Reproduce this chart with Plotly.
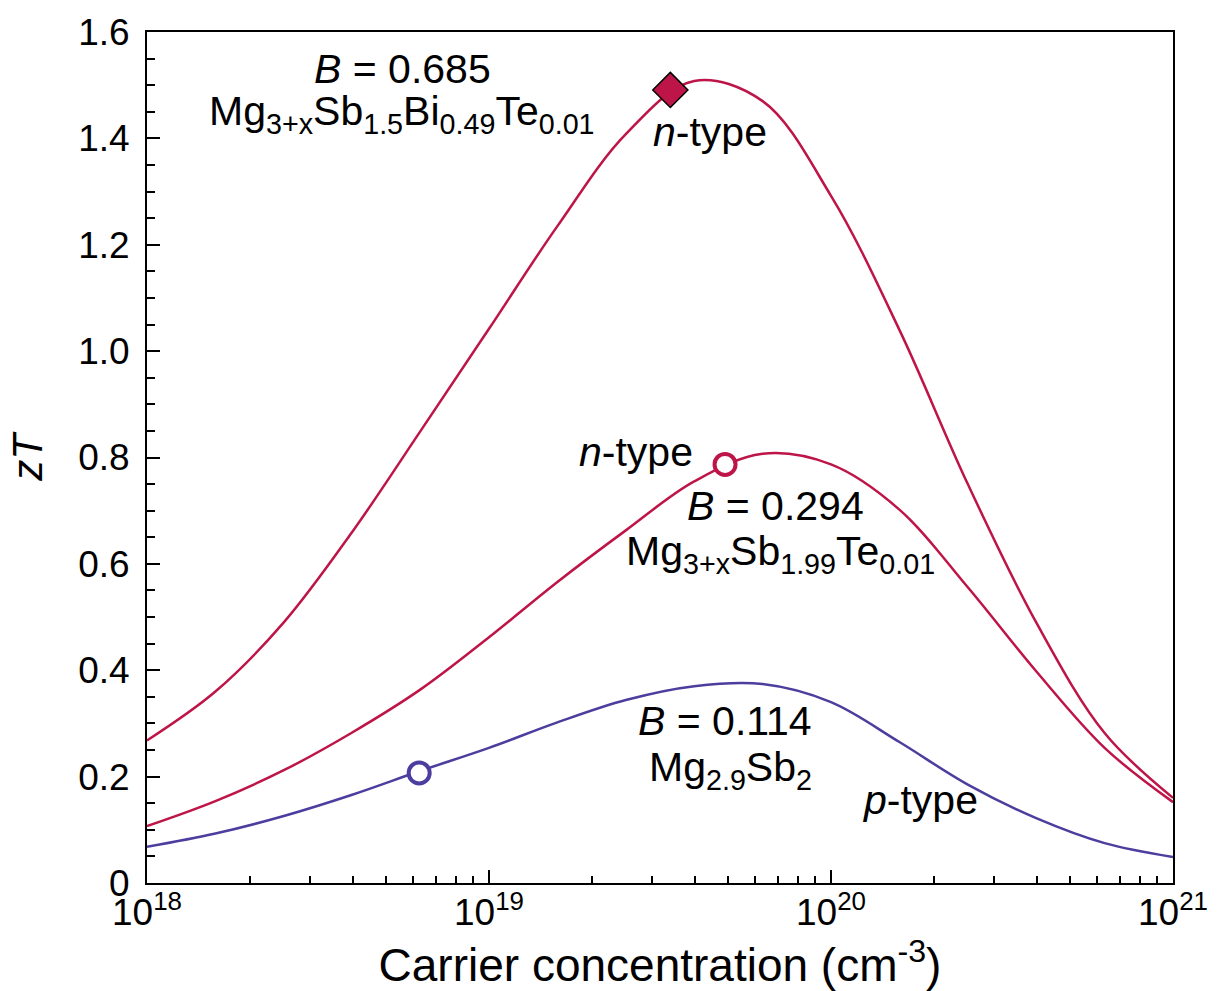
import numpy as np
import plotly.graph_objects as go

# log10 of carrier concentration (cm^-3), read every 0.2 decade from the picture
logn = [18.0, 18.2, 18.4, 18.6, 18.8, 19.0, 19.2, 19.4, 19.6, 19.8,
        20.0, 20.2, 20.4, 20.6, 20.8, 21.0]
# B = 0.685, Mg3+xSb1.5Bi0.49Te0.01 (n-type)
zt_top = [0.268, 0.360, 0.490, 0.660, 0.850, 1.042, 1.235, 1.408, 1.508, 1.470,
          1.292, 1.040, 0.750, 0.490, 0.282, 0.160]
# B = 0.294, Mg3+xSb1.99Te0.01 (n-type)
zt_mid = [0.107, 0.154, 0.212, 0.283, 0.364, 0.462, 0.566, 0.663, 0.755, 0.807,
          0.787, 0.702, 0.556, 0.398, 0.254, 0.152]
# B = 0.114, Mg2.9Sb2 (p-type)
zt_p = [0.068, 0.093, 0.126, 0.166, 0.211, 0.254, 0.302, 0.344, 0.370, 0.374,
        0.340, 0.265, 0.185, 0.122, 0.075, 0.049]

# experimental points
exp_top_n, exp_top_zt = [3.39e19], [1.491]
exp_mid_n, exp_mid_zt = [4.9e19], [0.787]
exp_p_n, exp_p_zt = [6.25e18], [0.207]

x_tickvals = [1e18, 1e19, 1e20, 1e21]
x_ticktext = ["10<sup>18</sup>", "10<sup>19</sup>", "10<sup>20</sup>", "10<sup>21</sup>"]
y_tickvals = [0, 0.2, 0.4, 0.6, 0.8, 1.0, 1.2, 1.4, 1.6]
y_ticktext = ["0", "0.2", "0.4", "0.6", "0.8", "1.0", "1.2", "1.4", "1.6"]

RED = "#BE1548"
BLUE = "#4B3E9E"
FONT = "Liberation Sans, Arial, sans-serif"

fig = go.Figure()
xs = [10.0 ** v for v in logn]
for zt, col in [(zt_top, RED), (zt_mid, RED), (zt_p, BLUE)]:
    fig.add_trace(go.Scatter(x=xs, y=zt, mode="lines",
                             line=dict(color=col, width=2.5, shape="spline", smoothing=1.0),
                             showlegend=False, hoverinfo="skip"))

fig.add_trace(go.Scatter(x=exp_top_n, y=exp_top_zt, mode="markers",
                         marker=dict(symbol="diamond", size=27, color=RED,
                                     line=dict(color="black", width=1.5)), showlegend=False))
fig.add_trace(go.Scatter(x=exp_mid_n, y=exp_mid_zt, mode="markers",
                         marker=dict(symbol="circle", size=21, color="white",
                                     line=dict(color=RED, width=4)), showlegend=False))
fig.add_trace(go.Scatter(x=exp_p_n, y=exp_p_zt, mode="markers",
                         marker=dict(symbol="circle", size=21, color="white",
                                     line=dict(color=BLUE, width=4)), showlegend=False))

minor_x = [float(m) * 10.0 ** e for e in (18, 19, 20) for m in range(2, 10)]

fig.update_xaxes(type="log", range=[18, 21], tickvals=x_tickvals, ticktext=x_ticktext,
                 ticks="inside", ticklen=13, tickwidth=1.5, tickcolor="black",
                 minor=dict(tickvals=minor_x, ticks="inside", ticklen=7, tickwidth=1.5,
                            tickcolor="black", showgrid=False),
                 showline=True, linecolor="black", linewidth=2, mirror=True,
                 showgrid=False, zeroline=False, ticklabelstandoff=-4,
                 tickfont=dict(family=FONT, size=37, color="black"),
                 title=dict(text="Carrier concentration (cm<sup>-3</sup>)",
                            font=dict(family=FONT, size=46, color="black"), standoff=4))
fig.update_yaxes(range=[0, 1.6], tickvals=y_tickvals, ticktext=y_ticktext,
                 ticks="inside", ticklen=13, tickwidth=1.5, tickcolor="black",
                 minor=dict(dtick=0.05, tick0=0, ticks="inside", ticklen=8, tickwidth=1.5,
                            tickcolor="black", showgrid=False),
                 showline=True, linecolor="black", linewidth=2, mirror=True,
                 showgrid=False, zeroline=False, ticklabelstandoff=8,
                 tickfont=dict(family=FONT, size=37, color="black"),
                 title=dict(text="<i>zT</i>", font=dict(family=FONT, size=42, color="black"),
                            standoff=22))

ann = [
    (5.57e18, 1.531, "<i>B</i> = 0.685"),
    (5.57e18, 1.446, "Mg<sub>3+x</sub>Sb<sub>1.5</sub>Bi<sub>0.49</sub>Te<sub>0.01</sub>"),
    (4.44e19, 1.412, "<i>n</i>-type"),
    (2.69e19, 0.811, "<i>n</i>-type"),
    (6.87e19, 0.708, "<i>B</i> = 0.294"),
    (7.1e19, 0.618, "Mg<sub>3+x</sub>Sb<sub>1.99</sub>Te<sub>0.01</sub>"),
    (4.9e19, 0.304, "<i>B</i> = 0.114"),
    (5.08e19, 0.212, "Mg<sub>2.9</sub>Sb<sub>2</sub>"),
    (1.82e20, 0.156, "<i>p</i>-type"),
]
for x, y, t in ann:
    fig.add_annotation(x=np.log10(x), y=y, text=t, showarrow=False, xanchor="center",
                       yanchor="middle", font=dict(family=FONT, size=41, color="black"))

fig.update_layout(width=1220, height=991, plot_bgcolor="white", paper_bgcolor="white",
                  margin=dict(l=147, r=44, t=30, b=108), showlegend=False)

fig.write_html("out.html")
